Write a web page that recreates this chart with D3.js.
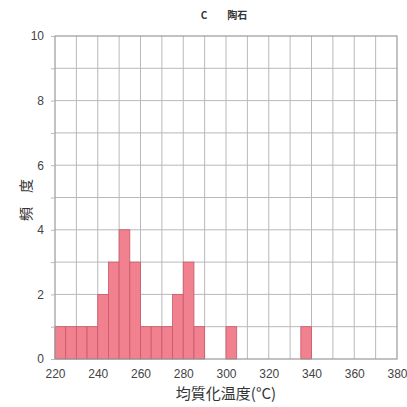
<!DOCTYPE html>
<html>
<head>
<meta charset="utf-8">
<script src="https://cdn.jsdelivr.net/npm/d3@7"></script>
<style>
  html, body { margin: 0; padding: 0; background: #fff; }
  svg { display: block; }
</style>
</head>
<body>
<svg id="chart" width="407" height="407"></svg>
<script>
// Homogenization temperature histogram, 5 °C bins
const binStarts = [220, 225, 230, 235, 240, 245, 250, 255, 260, 265, 270, 275, 280, 285, 290, 295, 300, 305, 310, 315, 320, 325, 330, 335];
const counts    = [1,   1,   1,   1,   2,   3,   4,   3,   1,   1,   1,   2,   3,   1,   0,   0,   1,   0,   0,   0,   0,   0,   0,   1];
const binWidth = 5;
const xTicks = [220, 240, 260, 280, 300, 320, 340, 360, 380];
const yTicks = [0, 2, 4, 6, 8, 10];
const titleText = "C\u3000\u3000陶石";
const xLabel = "均質化温度(°C)";
const yLabel = "頻\u3000度";

const svg = d3.select("#chart");
const m = { left: 55, right: 397, top: 36, bottom: 359 };

const x = d3.scaleLinear().domain([220, 380]).range([m.left, m.right]);
const y = d3.scaleLinear().domain([0, 10]).range([m.bottom, m.top]);

const cjkFont = "'Noto Sans CJK JP', 'Liberation Sans', sans-serif";
const numFont = "'Liberation Sans', Arial, sans-serif";
const gridColor = "#b9b9b9";

// grid
const g = svg.append("g");
g.selectAll(".vg").data(d3.range(230, 380, 10)).join("line")
  .attr("x1", d => x(d)).attr("x2", d => x(d))
  .attr("y1", m.top).attr("y2", m.bottom)
  .attr("stroke", gridColor).attr("stroke-width", 1);
g.selectAll(".hg").data(d3.range(1, 10)).join("line")
  .attr("x1", m.left).attr("x2", m.right)
  .attr("y1", d => y(d)).attr("y2", d => y(d))
  .attr("stroke", gridColor).attr("stroke-width", 1);

// bars
svg.append("g").selectAll("rect")
  .data(binStarts.map((s, i) => ({ s, c: counts[i] })).filter(d => d.c > 0))
  .join("rect")
  .attr("x", d => x(d.s))
  .attr("width", d => x(d.s + binWidth) - x(d.s))
  .attr("y", d => y(d.c))
  .attr("height", d => y(0) - y(d.c))
  .attr("fill", "#f2818f")
  .attr("stroke", "#c8586a")
  .attr("stroke-width", 0.8);

// frame
svg.append("rect")
  .attr("x", m.left).attr("y", m.top)
  .attr("width", m.right - m.left).attr("height", m.bottom - m.top)
  .attr("fill", "none").attr("stroke", "#9a9a9a").attr("stroke-width", 1.2);

// axes
const xAxis = svg.append("g")
  .attr("transform", `translate(0,${m.bottom})`)
  .call(d3.axisBottom(x).tickValues(xTicks).tickSize(0).tickPadding(10).tickFormat(d3.format("d")));
xAxis.select(".domain").remove();
xAxis.selectAll("text").attr("font-family", numFont).attr("font-size", 12).attr("fill", "#444");

const yAxis = svg.append("g")
  .attr("transform", `translate(${m.left},0)`)
  .call(d3.axisLeft(y).ticks(10).tickSize(4).tickPadding(7).tickFormat(d => yTicks.includes(d) ? d : ""));
yAxis.select(".domain").remove();
yAxis.selectAll("line").attr("stroke", gridColor);
yAxis.selectAll("text").attr("font-family", numFont).attr("font-size", 12).attr("fill", "#444");

// title and axis labels
svg.append("text")
  .attr("x", 224).attr("y", 19)
  .attr("text-anchor", "middle")
  .attr("font-family", cjkFont).attr("font-weight", "bold").attr("font-size", 10)
  .attr("fill", "#333")
  .text(titleText);

svg.append("text")
  .attr("x", 226).attr("y", 399)
  .attr("text-anchor", "middle")
  .attr("font-family", cjkFont).attr("font-size", 15)
  .attr("fill", "#333")
  .text(xLabel);

svg.append("text")
  .attr("transform", "translate(31,200) rotate(-90)")
  .attr("text-anchor", "middle")
  .attr("font-family", cjkFont).attr("font-size", 14)
  .attr("fill", "#333")
  .text(yLabel);
</script>
</body>
</html>
